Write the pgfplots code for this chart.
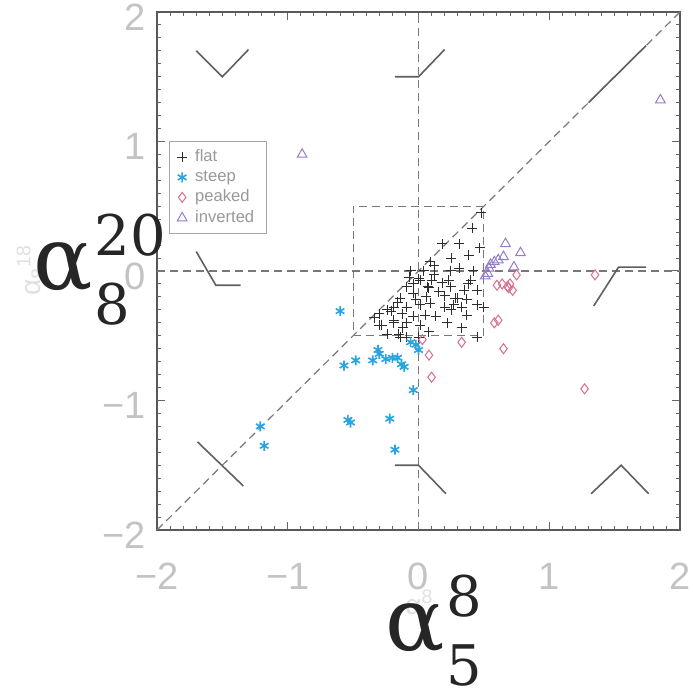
\documentclass[border=0pt]{standalone}
\usepackage{pgfplots}
\pgfplotsset{compat=1.18}
\usepackage{fontspec}
\setmainfont{DejaVu Serif}
\newfontfamily\tickfont{Liberation Sans}
\definecolor{flatc}{RGB}{45,45,45}
\definecolor{steepc}{RGB}{40,165,225}
\definecolor{peakc}{RGB}{215,110,140}
\definecolor{invc}{RGB}{150,125,200}
\definecolor{ticklab}{RGB}{195,195,195}
\definecolor{glyph}{RGB}{95,95,95}
\definecolor{dashc}{RGB}{120,120,120}
\newcommand{\biglab}[2]{\fontsize{44}{44}\selectfont α\kern1pt\rlap{\raisebox{17pt}{\fontsize{28}{28}\selectfont #1}}\raisebox{-17.5pt}{\fontsize{28}{28}\selectfont #2}}
\begin{document}
\begin{tikzpicture}
\begin{axis}[
  width=261.5pt, height=259pt, scale only axis,
  xmin=-2, xmax=2, ymin=-2, ymax=2,
  xtick={-2,-1,0,1,2}, ytick={-2,-1,0,1,2},
  xticklabels={−2,−1,0,1,2}, yticklabels={−2,−1,0,1,2},
  minor tick num=9,
  major tick length=4pt, minor tick length=2pt,
  tick style={black!60, line width=0.5pt},
  axis line style={black!65, line width=0.8pt},
  tick label style={font=\tickfont\fontsize{19}{19}\selectfont, text=ticklab},
  xticklabel style={yshift=-13pt},
  yticklabel style={xshift=-2pt, yshift=-2.5pt},
  legend style={at={(axis cs:-1.91,1.0)}, anchor=north west, draw=black!35, line width=0.4pt,
    font=\tickfont\fontsize{8.3}{9}\selectfont, text=black!40, inner xsep=4pt, inner ysep=2pt,
    row sep=-1.2pt, column sep=2pt},
  legend cell align=left,
  clip=false,
]
% dashed reference lines
\addplot[forget plot, dashc, line width=0.6pt, dash pattern=on 4pt off 2.5pt] coordinates {(-2,-2) (2,2)};
\addplot[forget plot, dashc, line width=0.6pt, dash pattern=on 4pt off 2.5pt] coordinates {(-2,0) (2,0)};
\addplot[forget plot, dashc, line width=0.6pt, dash pattern=on 4pt off 2.5pt] coordinates {(0,-2) (0,2)};
\addplot[forget plot, dashc, line width=0.6pt, dash pattern=on 4pt off 2.5pt] coordinates {(-0.5,-0.5) (0.5,-0.5) (0.5,0.5) (-0.5,0.5) (-0.5,-0.5)};
% shape glyphs
\addplot[forget plot, glyph, line width=0.8pt] coordinates {(1.30,1.30) (1.74,1.74)};
\addplot[forget plot, glyph, line width=0.8pt] coordinates {(-1.70,1.70) (-1.50,1.50) (-1.30,1.71)};
\addplot[forget plot, glyph, line width=0.8pt] coordinates {(-0.18,1.50) (0.0,1.50) (0.20,1.71)};
\addplot[forget plot, glyph, line width=0.8pt] coordinates {(-1.70,0.15) (-1.55,-0.11) (-1.36,-0.11)};
\addplot[forget plot, glyph, line width=0.8pt] coordinates {(1.34,-0.27) (1.53,0.03) (1.74,0.03)};
\addplot[forget plot, glyph, line width=0.8pt] coordinates {(-1.69,-1.32) (-1.34,-1.66)};
\addplot[forget plot, glyph, line width=0.8pt] coordinates {(-0.18,-1.50) (0.0,-1.50) (0.21,-1.72)};
\addplot[forget plot, glyph, line width=0.8pt] coordinates {(1.32,-1.72) (1.55,-1.50) (1.76,-1.72)};
% flat
\addplot[only marks, mark=+, mark size=2.5pt, flatc, line width=0.5pt] coordinates {
(0.41,0.33) (0.48,0.45) (0.18,0.21) (0.31,0.21) (0.47,0.18) (0.385,0.12) (0.31,0.02)
(0.09,0.07) (-0.06,0.00) (0.04,0.00) (0.245,0.00) (0.42,0.00) (0.12,-0.03) (0.015,-0.07)
(0.23,-0.07) (0.40,-0.07) (-0.09,-0.12) (0.07,-0.12) (-0.04,-0.17) (0.155,-0.16) (0.35,-0.15)
(0.45,-0.15) (0.30,-0.21) (0.37,-0.22) (-0.14,-0.21) (-0.19,-0.28) (0.50,-0.28)
(-0.04,-0.10) (0.08,-0.13) (0.245,-0.12) (0.28,-0.21) (0.45,-0.26) (-0.16,-0.24) (-0.09,-0.28)
(0.015,-0.26) (0.09,-0.25) (-0.21,-0.31) (-0.125,-0.33) (-0.04,-0.35) (0.05,-0.34) (0.13,-0.35)
(0.22,-0.40) (0.37,-0.34) (0.33,-0.44) (-0.19,-0.40) (-0.09,-0.40) (0.015,-0.42) (0.08,-0.47)
(-0.24,-0.49) (-0.15,-0.49) (-0.09,-0.51) (0.00,-0.51) (0.45,-0.51) (-0.30,-0.33)
(-0.24,-0.30) (-0.19,-0.38) (-0.14,-0.51) (-0.28,-0.42) (-0.34,-0.36) (-0.30,-0.42)
(-0.02,-0.22) (0.06,-0.20) (0.18,-0.09) (-0.12,-0.44) (0.20,-0.19) (0.27,-0.26) (0.38,-0.10)
(-0.07,-0.05) (0.12,0.04) (0.25,0.10) (0.20,-0.28) (0.25,-0.30) (0.33,-0.28) (0.00,-0.06) (0.10,-0.07)
};
\addlegendentry{flat}
% steep
\addplot[only marks, mark=asterisk, mark size=2.5pt, steepc, line width=0.8pt] coordinates {
(-0.60,-0.31) (-0.31,-0.61) (-0.48,-0.69) (-0.57,-0.73) (-0.35,-0.69) (-0.25,-0.68) (-0.20,-0.67)
(-0.16,-0.67) (-0.11,-0.74) (-0.06,-0.55) (-0.02,-0.57) (0.00,-0.61) (-0.04,-0.92) (-0.54,-1.15)
(-0.52,-1.17) (-0.22,-1.14) (-0.18,-1.38) (-1.21,-1.20) (-1.18,-1.35) (-0.13,-0.72) (-0.30,-0.64)
};
\addlegendentry{steep}
% peaked
\addplot[only marks, mark=diamond, mark size=2.5pt, peakc, line width=0.5pt] coordinates {
(0.60,-0.11) (0.64,-0.10) (0.68,-0.12) (0.70,-0.10) (0.72,-0.15) (0.69,-0.13) (0.75,-0.03)
(0.58,-0.40) (0.61,-0.38) (0.65,-0.60) (0.33,-0.55) (0.08,-0.65) (0.10,-0.82) (1.27,-0.91)
(1.35,-0.03) (0.03,-0.53)
};
\addlegendentry{peaked}
% inverted
\addplot[only marks, mark=triangle, mark size=2.8pt, invc, line width=0.5pt] coordinates {
(0.665,0.21) (0.78,0.14) (0.65,0.11) (0.61,0.085) (0.58,0.07) (0.55,0.05) (0.54,0.02)
(0.53,-0.02) (0.73,0.03) (0.51,-0.04) (1.85,1.32) (-0.89,0.90)
};
\addlegendentry{inverted}
\coordinate (BL) at (rel axis cs:0,0);
\coordinate (TR) at (rel axis cs:1,1);
% faint original axis titles
\node[anchor=base west, inner sep=0, text=black!12, font=\tickfont\fontsize{14}{14}\selectfont] at ([xshift=124pt,yshift=-42pt]rel axis cs:0,0) {α\textsuperscript{8}};
\node[rotate=90, inner sep=0, text=black!12, font=\tickfont\fontsize{14}{14}\selectfont] at ([xshift=-63pt,yshift=130pt]rel axis cs:0,0) {α\textsubscript{8}\textsuperscript{18}};
% large axis titles
\node[anchor=base west, inner sep=0, text=black!85] at ([xshift=114pt,yshift=-60pt]rel axis cs:0,0) {\biglab{8}{5}};
\node[anchor=base west, inner sep=0, text=black!85] at ([xshift=-62pt,yshift=120pt]rel axis cs:0,0) {\biglab{20}{8}};
\end{axis}
\pgfresetboundingbox
\path ([xshift=-78.5pt,yshift=-82pt]BL) rectangle ([xshift=6pt,yshift=6pt]TR);
\end{tikzpicture}
\end{document}
